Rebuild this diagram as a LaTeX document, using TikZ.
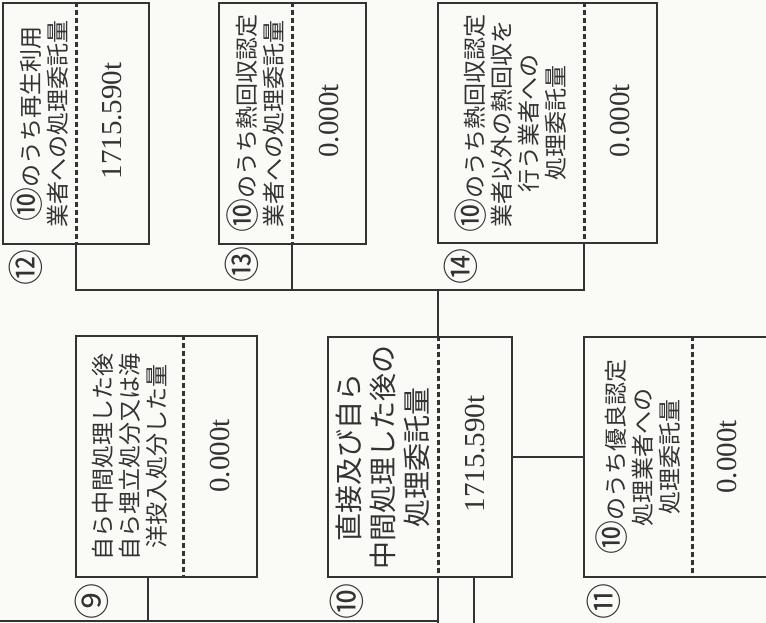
\documentclass[tikz,border=0pt]{standalone}
\usepackage{fontspec}
\setmainfont{Liberation Serif}
\newfontfamily\jp{Noto Sans CJK JP}
\usetikzlibrary{positioning}
\definecolor{ink}{HTML}{333333}
\definecolor{paper}{HTML}{FAFAF7}
\newcommand{\tenmark}{{\fontsize{34}{27}\selectfont ⑩}}

\begin{document}
\begin{tikzpicture}
        [x=1pt, y=-1pt,
         box/.style={rectangle, draw=ink, line width=2.2pt, inner sep=0pt},
         sep/.style={draw=ink, line width=3pt, dash pattern=on 5pt off 3pt},
         link/.style={draw=ink, line width=2pt},
         lbl/.style={rotate=90, align=center, text=ink, font=\jp\fontsize{23}{27}\selectfont},
         big/.style={rotate=90, align=center, text=ink, font=\jp\fontsize{28}{34}\selectfont},
         val/.style={rotate=90, text=ink, font=\fontsize{29}{30}\selectfont},
         num/.style={rotate=90, text=ink, font=\jp\fontsize{36}{36}\selectfont}]
        \useasboundingbox (0,0) rectangle (766,623);
        \fill[paper] (0,0) rectangle (766,623);
        \clip (0,0) rectangle (766,623);
        % boxes
        \node[box, minimum width=146pt, minimum height=241pt] (b12) at (76,123.5) {};
        \node[box, minimum width=147pt, minimum height=241pt] (b13) at (292.5,123.5) {};
        \node[box, minimum width=219pt, minimum height=240pt] (b14) at (547.5,123) {};
        \node[box, minimum width=181pt, minimum height=241pt] (b9) at (166.5,456.5) {};
        \node[box, minimum width=184pt, minimum height=240pt] (b10) at (420,457) {};
        \node[box, minimum width=186pt, minimum height=240pt] (b11) at (677,457) {};
        % dividers
        \coordinate (s12) at (76,0);
        \coordinate (s13) at (292,0);
        \coordinate (s14) at (584,0);
        \coordinate (s9) at (183,0);
        \coordinate (s10) at (438,0);
        \coordinate (s11) at (692,0);
        \foreach \b in {12,13,14,9,10,11}
          \draw[sep] (b\b.north -| s\b) -- (b\b.south -| s\b);
        % texts
        \node[lbl] (t12) at (39.5,123.5) {\tenmark のうち再生利用\\業者への処理委託量};
        \node[val] (v12) at (112.5,121) {1715.590t};
        \node[lbl] (t13) at (256,123.5) {\tenmark のうち熱回収認定\\業者への処理委託量};
        \node[val] (v13) at (329,121) {0.000t};
        \node[lbl] (t14) at (511,123.5) {\tenmark のうち熱回収認定\\業者以外の熱回収を\\行う業者への\\処理委託量};
        \node[val] (v14) at (620.5,121) {0.000t};
        \node[lbl] (t9) at (130,456.5) {自ら中間処理した後\\自ら埋立処分又は海\\洋投入処分した量};
        \node[val] (v9) at (220,456) {0.000t};
        \node[big] (t10) at (383,457) {直接及び自ら\\中間処理した後の\\処理委託量};
        \node[val] (v10) at (475,454) {1715.590t};
        \node[lbl] (t11) at (638,457) {\tenmark のうち優良認定\\処理業者への\\処理委託量};
        \node[val] (v11) at (727,457) {0.000t};
        % numbers
        \node[num] (n12) at (26,267) {⑫};
        \node[num] (n13) at (242,264) {⑬};
        \node[num] (n14) at (461,266) {⑭};
        \node[num] (n9) at (92,601) {⑨};
        \node[num] (n10) at (347,601) {⑩};
        \node[num] (n11) at (604,601) {⑪};
        % connectors
        \coordinate (hub) at (438,290);
        \coordinate (base) at (-5,621);
        \coordinate (edge) at (0,640);
        \coordinate (p9) at (148,0);
        \coordinate (p10) at (474,0);
        \draw[link] (b12.south) -- (s12 |- hub) -- (s14 |- hub) -- (b14.south -| s14);
        \draw[link] (b13.south -| s13) -- (s13 |- hub);
        \draw[link] (hub) -- (b10.north -| s10);
        \draw[link] (b10.east) -- (b11.west);
        \draw[link] (b9.south -| p9) -- (p9 |- base);
        \draw[link] (base) -- (s10 |- base);
        \draw[link] (b10.south -| s10) -- (s10 |- edge);
        \draw[link] (b10.south -| p10) -- (p10 |- edge);
\end{tikzpicture}
\end{document}
